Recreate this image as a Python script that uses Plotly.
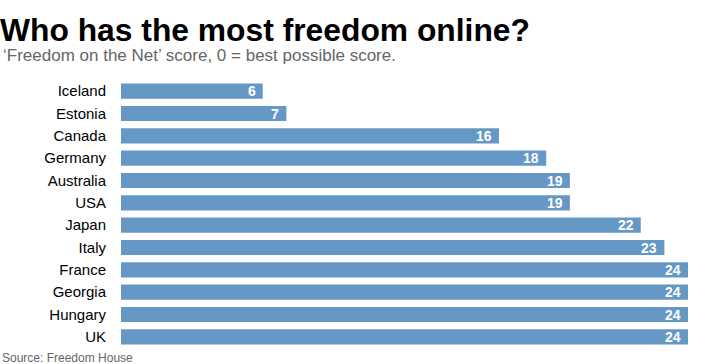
import plotly.graph_objects as go

countries = ["Iceland", "Estonia", "Canada", "Germany", "Australia", "USA",
             "Japan", "Italy", "France", "Georgia", "Hungary", "UK"]
scores = [6, 7, 16, 18, 19, 19, 22, 23, 24, 24, 24, 24]

title_text = "Who has the most freedom online?"
subtitle_text = "\u2018Freedom on the Net\u2019 score, 0 = best possible score."
source_text = "Source: Freedom House"

W, H = 728, 364
ML, MR, MT, MB = 121, 40, 80, 16
PW = W - ML - MR
PH = H - MT - MB
FONT = "Liberation Sans, Arial, Helvetica, sans-serif"


def py(px_from_top):
    return (H - MB - px_from_top) / PH


fig = go.Figure(go.Bar(
    x=scores, y=countries, orientation="h",
    marker=dict(color="#6698C5", line=dict(width=0)),
    width=0.68,
    hoverinfo="x+y",
))

annotations = [
    dict(text=subtitle_text, xref="paper", yref="paper",
         x=-120 / PW, y=py(55.5), xanchor="left", yanchor="middle",
         showarrow=False, font=dict(size=17, color="#666666", family=FONT)),
    dict(text=source_text, xref="paper", yref="paper",
         x=-121 / PW, y=py(357.5), xanchor="left", yanchor="middle",
         showarrow=False, font=dict(size=12, color="#666666", family=FONT)),
]
for c, v in zip(countries, scores):
    annotations.append(dict(
        text=str(v), x=v, y=c, xref="x", yref="y",
        xanchor="right", yanchor="middle", xshift=-5, showarrow=False,
        font=dict(size=14, color="white", family=FONT, weight="bold"),
    ))

fig.update_layout(
    width=W, height=H,
    margin=dict(l=ML, r=MR, t=MT, b=MB, pad=0, autoexpand=False),
    paper_bgcolor="white", plot_bgcolor="white",
    showlegend=False,
    font=dict(family=FONT, color="black"),
    title=dict(text=title_text, x=0.0, xanchor="left", xref="container",
               y=1 - 29.5 / H, yanchor="middle", yref="container",
               font=dict(size=31.8, family=FONT, color="black", weight="bold")),
    xaxis=dict(range=[0, 24], visible=False, fixedrange=True),
    yaxis=dict(categoryorder="array", categoryarray=countries[::-1],
               range=[-0.5, len(countries) - 0.5], fixedrange=True,
               showgrid=False, zeroline=False, showline=False, ticks="",
               ticklabelstandoff=14, automargin=False,
               tickfont=dict(size=15, color="black", family=FONT)),
    annotations=annotations,
)

fig.write_html("out.html", config={"displayModeBar": False},
               post_script="document.body.style.margin='0px';document.body.style.overflow='hidden';")
